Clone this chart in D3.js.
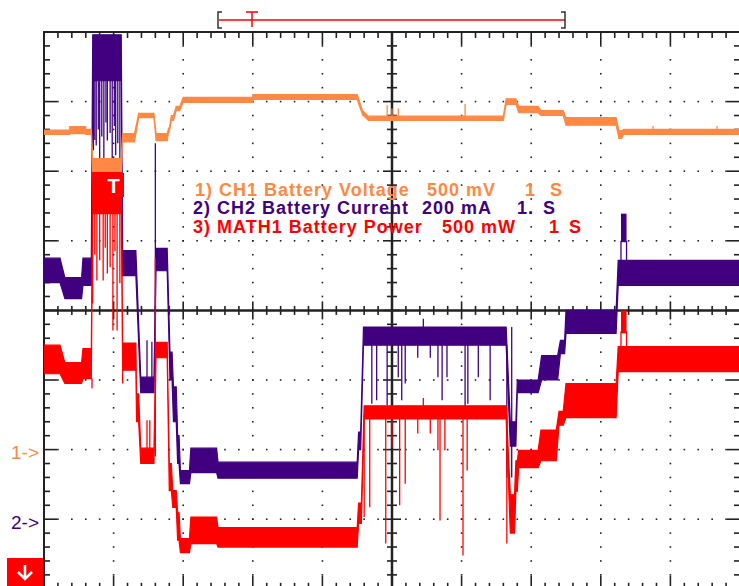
<!DOCTYPE html>
<html>
<head>
<meta charset="utf-8">
<script src="https://cdn.jsdelivr.net/npm/d3@7"></script>
<style>
body { margin: 0; background: #fff; }
svg { display: block; font-family: "Liberation Sans", Arial, sans-serif; }
</style>
</head>
<body>
<svg id="scope" width="739" height="586"></svg>
<script>
// time in seconds (1 s/div), values in screen divisions (0 = centre line)
// bands: [t start, t end, low, high] of the noisy trace
var ch1Bands = [
  [0.00, 0.37, 2.53, 2.59], [0.37, 0.60, 2.54, 2.64], [0.60, 0.68, 2.53, 2.60],
  [0.70, 1.11, 1.98, 2.18], [1.13, 1.30, 2.42, 2.54], [1.36, 1.58, 2.77, 2.83],
  [1.61, 1.77, 2.44, 2.54], [1.79, 1.80, 2.56, 2.62], [1.83, 1.86, 2.73, 2.80],
  [1.90, 1.95, 2.87, 2.93], [2.00, 3.00, 2.99, 3.06], [3.00, 4.50, 3.03, 3.10],
  [4.58, 4.59, 2.80, 2.86], [4.66, 6.60, 2.73, 2.79], [6.64, 6.78, 2.96, 3.04],
  [6.82, 7.10, 2.84, 2.93], [7.14, 7.46, 2.80, 2.87], [7.50, 8.22, 2.66, 2.77],
  [8.26, 8.30, 2.47, 2.58], [8.33, 10.0, 2.53, 2.60]
];
// spikes: [t, from, to]
var ch1Spikes = [
  [4.93, 2.76, 2.95], [5.00, 2.76, 2.90], [5.09, 2.76, 2.90], [6.05, 2.76, 2.97],
  [8.75, 2.56, 2.65], [9.67, 2.56, 2.65]
];

var ch2Bands = [
  [0.00, 0.23, 0.40, 0.75], [0.30, 0.54, 0.17, 0.47], [0.56, 0.68, 0.36, 0.75],
  [0.70, 1.11, 3.30, 3.96], [1.13, 1.32, 0.50, 0.86], [1.39, 1.58, -1.18, -0.96],
  [1.61, 1.77, 0.57, 0.89], [1.81, 1.84, -1.00, -0.60], [1.86, 1.90, -1.60, -1.10],
  [1.92, 1.94, -2.20, -1.80], [1.96, 2.09, -2.49, -2.30], [2.11, 2.48, -2.33, -1.98],
  [2.50, 4.50, -2.41, -2.18], [4.52, 4.55, -2.00, -1.75], [4.59, 6.64, -0.50, -0.24],
  [6.70, 6.78, -1.95, -1.60], [6.80, 7.10, -1.18, -1.00], [7.15, 7.38, -1.00, -0.65],
  [7.42, 7.48, -0.62, -0.43], [7.50, 8.22, -0.33, 0.00], [8.25, 10.0, 0.36, 0.72]
];
var ch2Spikes = [
  [0.71, 3.40, 2.30], [0.73, 3.40, 2.45], [0.75, 3.40, 2.37], [0.78, 3.40, 2.60],
  [0.80, 3.40, 2.01], [0.83, 3.40, 2.50], [0.86, 3.40, 2.15], [0.89, 3.40, 2.70],
  [0.91, 3.40, 2.44], [0.95, 3.40, 2.55], [0.98, 3.40, 2.08], [1.01, 3.40, 2.65],
  [1.03, 3.40, 2.23], [1.06, 3.40, 2.40], [1.09, 3.40, 2.01],
  [1.48, -0.96, -0.43], [1.55, -0.96, -0.45], [1.60, -0.96, 2.40],
  [4.71, -0.45, -1.34], [4.78, -0.45, -1.29], [4.93, -0.45, -1.36], [5.09, -0.45, -0.96],
  [5.14, -0.45, -1.29], [5.19, -0.45, -1.05], [5.37, -0.45, -0.68], [5.55, -0.45, -0.68],
  [5.66, -0.45, -0.96], [5.72, -0.45, -1.29], [5.79, -0.45, -0.96], [6.05, -0.45, -1.44],
  [6.09, -0.45, -1.34], [6.24, -0.45, -0.96], [6.41, -0.45, -1.29],
  [5.45, -0.30, -0.12], [6.65, -0.50, -2.40], [6.72, -2.40, -0.24],
  [8.29, 0.50, 1.00], [8.37, 0.50, 1.00]
];
var ch2Blocks = [[8.29, 8.37, 0.98, 1.39]];

var mathBands = [
  [0.00, 0.23, -0.91, -0.50], [0.30, 0.54, -1.05, -0.75], [0.56, 0.68, -0.98, -0.55],
  [0.70, 1.11, 1.39, 1.98], [1.13, 1.32, -0.86, -0.47], [1.33, 1.36, -1.60, -1.20],
  [1.39, 1.58, -2.20, -1.98], [1.61, 1.77, -0.68, -0.46], [1.80, 1.83, -2.59, -2.20],
  [1.85, 1.90, -2.83, -2.59], [1.92, 1.94, -3.30, -2.90], [1.96, 2.09, -3.48, -3.28],
  [2.11, 2.48, -3.35, -2.97], [2.50, 4.50, -3.40, -3.12], [4.52, 4.56, -3.06, -2.77],
  [4.60, 6.64, -1.56, -1.37], [6.70, 6.76, -3.20, -2.65], [6.78, 6.80, -2.60, -2.16],
  [6.82, 7.10, -2.26, -2.01], [7.14, 7.36, -2.16, -1.72], [7.40, 7.46, -1.65, -1.45],
  [7.50, 8.22, -1.54, -1.05], [8.25, 10.0, -0.88, -0.52]
];
var mathSpikes = [
  [0.69, -0.98, -1.12],
  [0.70, 1.39, 0.10], [0.73, 1.39, 0.80], [0.76, 1.39, 0.43], [0.80, 1.39, 0.72],
  [0.85, 1.39, 0.43], [0.88, 1.39, 0.90], [0.91, 1.39, 0.53], [0.95, 1.39, 0.62],
  [0.99, 1.39, -0.29], [1.02, 1.39, 0.85], [1.05, 1.39, -0.29], [1.09, 1.39, 0.39],
  [1.13, -0.47, -1.05],
  [1.48, -1.98, -1.58], [1.52, -1.98, -1.58], [1.60, -2.10, 0.75],
  [4.60, -1.50, -2.97], [4.68, -1.50, -2.83], [4.91, -1.50, -3.35], [5.00, -1.50, -1.97],
  [5.11, -1.50, -2.80], [5.19, -1.50, -2.49], [5.37, -1.50, -1.77], [5.55, -1.50, -1.77],
  [5.66, -1.50, -2.01], [5.69, -1.50, -3.02], [5.76, -1.50, -2.01], [6.02, -1.50, -3.52],
  [6.08, -1.50, -2.30], [5.45, -1.40, -1.26], [6.65, -1.50, -3.35],
  [8.29, -0.60, -0.30], [8.37, -0.60, -0.30]
];
var mathBlocks = [[8.29, 8.37, -0.33, 0.00]];

var legendLines = [
  ['1) CH1 Battery Voltage', '500 mV', '1', 'S'],
  ['2) CH2 Battery Current', '200 mA', '1.', 'S'],
  ['3) MATH1 Battery Power', '500 mW', '1', 'S']
];
var colors = ['#ff8844', '#400080', '#ff0000'];

var svg = d3.select('#scope');
var x = d3.scaleLinear().domain([0, 10]).range([44, 740]);
var y = d3.scaleLinear().domain([-4, 4]).range([588.8, 32]);
var minor = d3.range(0, 10.001, 0.2);
var minorY = d3.range(-4, 4.001, 0.2);
function isMajor(v) { return Math.abs(v - Math.round(v)) < 0.01; }

// dotted grid on the major lines
var grid = svg.append('g').attr('fill', '#222');
for (var i = 1; i < 10; i++) {
  if (i == 5) continue;
  minorY.forEach(function(v) {
    grid.append('rect').attr('x', x(i) - 0.8).attr('y', y(v) - 0.8)
      .attr('width', 1.6).attr('height', 1.6);
  });
}
for (var j = -3; j <= 3; j++) {
  if (j == 0) continue;
  minor.forEach(function(t) {
    grid.append('rect').attr('x', x(t) - 0.8).attr('y', y(j) - 0.8)
      .attr('width', 1.6).attr('height', 1.6);
  });
}

// frame and centre axes with ticks
var ax = svg.append('g').attr('stroke', '#222').attr('fill', 'none');
ax.append('rect').attr('x', x(0)).attr('y', y(4)).attr('width', x(10) - x(0))
  .attr('height', y(-4) - y(4)).attr('stroke-width', 2);
ax.append('line').attr('x1', x(0)).attr('x2', x(10)).attr('y1', y(0)).attr('y2', y(0))
  .attr('stroke-width', 2.5);
ax.append('line').attr('x1', x(5)).attr('x2', x(5)).attr('y1', y(4)).attr('y2', y(-4))
  .attr('stroke-width', 2.5);
minor.forEach(function(t) {
  var L = isMajor(t) ? 13 : 6, c = isMajor(t) ? 9 : 4.5;
  ax.append('line').attr('x1', x(t)).attr('x2', x(t)).attr('y1', y(4)).attr('y2', y(4) + L).attr('stroke-width', 1.6);
  ax.append('line').attr('x1', x(t)).attr('x2', x(t)).attr('y1', y(-4)).attr('y2', y(-4) - L).attr('stroke-width', 1.6);
  ax.append('line').attr('x1', x(t)).attr('x2', x(t)).attr('y1', y(0) - c).attr('y2', y(0) + c).attr('stroke-width', 1.6);
});
minorY.forEach(function(v) {
  var L = isMajor(v) ? 13 : 6, c = isMajor(v) ? 9 : 5;
  ax.append('line').attr('y1', y(v)).attr('y2', y(v)).attr('x1', x(0)).attr('x2', x(0) + L).attr('stroke-width', 1.6);
  ax.append('line').attr('y1', y(v)).attr('y2', y(v)).attr('x1', x(10)).attr('x2', x(10) - L).attr('stroke-width', 1.6);
  ax.append('line').attr('y1', y(v)).attr('y2', y(v)).attr('x1', x(5) - c).attr('x2', x(5) + c).attr('stroke-width', 1.6);
});

// traces
svg.append('clipPath').attr('id', 'plot').append('rect')
  .attr('x', x(0)).attr('y', y(4)).attr('width', x(10) - x(0)).attr('height', y(-4) - y(4));
var traces = svg.append('g').attr('clip-path', 'url(#plot)');

var area = d3.area().x(function(d) { return x(d[0]); })
  .y0(function(d) { return y(d[1]); }).y1(function(d) { return y(d[2]); });

function drawTrace(bands, spikes, blocks, color) {
  var pts = [];
  bands.forEach(function(b) {
    pts.push([b[0], b[2], b[3]]);
    pts.push([b[1], b[2], b[3]]);
  });
  traces.append('path').datum(pts).attr('d', area)
    .attr('fill', color).attr('stroke', color).attr('stroke-width', 1.2)
    .attr('stroke-linejoin', 'miter');
  traces.selectAll(null).data(spikes).enter().append('line')
    .attr('x1', function(d) { return x(d[0]); }).attr('x2', function(d) { return x(d[0]); })
    .attr('y1', function(d) { return y(d[1]); }).attr('y2', function(d) { return y(d[2]); })
    .attr('stroke', color).attr('stroke-width', 1.3);
  traces.selectAll(null).data(blocks).enter().append('rect')
    .attr('x', function(d) { return x(d[0]); })
    .attr('width', function(d) { return x(d[1]) - x(d[0]); })
    .attr('y', function(d) { return y(d[3]); })
    .attr('height', function(d) { return y(d[2]) - y(d[3]); })
    .attr('fill', color);
}
drawTrace(ch2Bands, ch2Spikes, ch2Blocks, colors[1]);
drawTrace(ch1Bands, ch1Spikes, [], colors[0]);
drawTrace(mathBands, mathSpikes, mathBlocks, colors[2]);

// trigger marker on the trace
svg.append('rect').attr('x', 103).attr('y', 173).attr('width', 21).attr('height', 24).attr('fill', '#ff0000');
svg.append('text').attr('x', 113.5).attr('y', 193).attr('text-anchor', 'middle')
  .attr('fill', '#fff').attr('font-size', 20).attr('font-weight', 'bold').text('T');

// legend
var legendX = [[195, 427, 525, 550], [193, 422, 517, 543], [193, 442, 549, 569]];
var legendY = [196, 214, 233];
legendLines.forEach(function(parts, k) {
  parts.forEach(function(p, m) {
    svg.append('text').attr('x', legendX[k][m]).attr('y', legendY[k])
      .attr('fill', colors[k]).attr('font-size', 18).attr('font-weight', 'bold')
      .attr('letter-spacing', 1).text(p);
  });
});

// channel reference markers
svg.append('text').attr('x', 11).attr('y', 459).attr('fill', colors[0]).attr('font-size', 19).text('1->');
svg.append('text').attr('x', 11).attr('y', 529).attr('fill', colors[1]).attr('font-size', 19).text('2->');
svg.append('rect').attr('x', 7).attr('y', 558).attr('width', 36).attr('height', 30).attr('fill', '#ff0000');
svg.append('path').attr('d', 'M25,565 V579 M18,572 L25,579 L32,572')
  .attr('stroke', '#fff').attr('stroke-width', 2.5).attr('fill', 'none');

// time window bracket at the top
var bracket = svg.append('g').attr('fill', 'none');
bracket.append('line').attr('x1', 219).attr('x2', 565).attr('y1', 20).attr('y2', 20)
  .attr('stroke', '#ff0000').attr('stroke-width', 1.5);
bracket.append('path').attr('d', 'M222,12 H218 V28 H222').attr('stroke', '#333').attr('stroke-width', 1.5);
bracket.append('path').attr('d', 'M561,12 H565 V28 H561').attr('stroke', '#333').attr('stroke-width', 1.5);
bracket.append('path').attr('d', 'M246,12 H258 M252,12 V27').attr('stroke', '#ff0000').attr('stroke-width', 1.5);
</script>
</body>
</html>
